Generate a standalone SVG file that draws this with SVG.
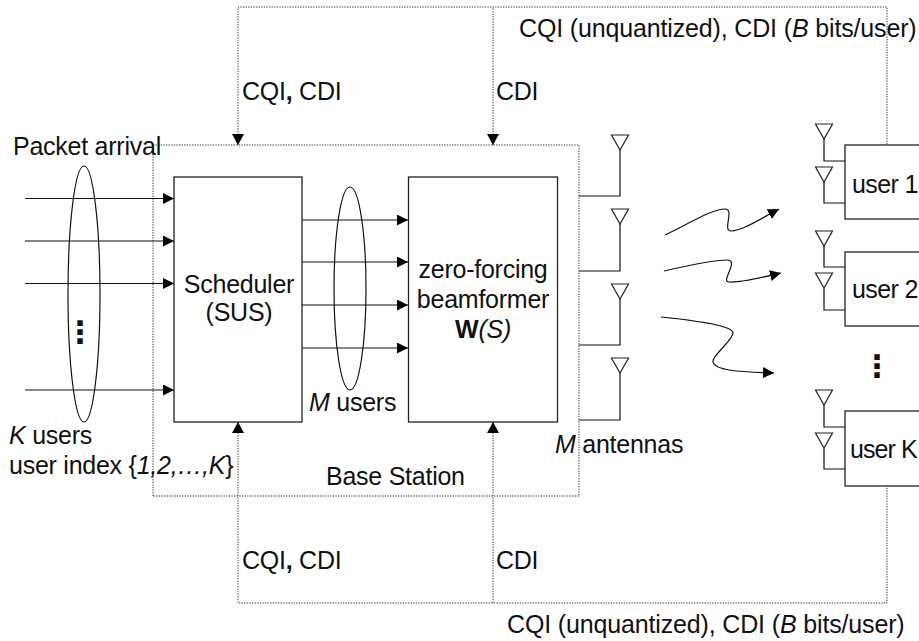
<svg xmlns="http://www.w3.org/2000/svg" width="919" height="641" viewBox="0 0 919 641">
<style>
text{font-family:"Liberation Sans",Arial,sans-serif;font-size:25px;fill:#111;letter-spacing:-0.25px}
.c{text-anchor:middle}
.i{font-style:italic}
.b{font-weight:bold}
.box{fill:#fff;stroke:#222;stroke-width:1.3}
.ln{fill:none;stroke:#111;stroke-width:1.2}
.dot{fill:none;stroke:#333;stroke-width:1;stroke-dasharray:1.3 1.3}
.ant{fill:#fff;stroke:#222;stroke-width:1.2}
.dots{font-family:"DejaVu Sans",sans-serif;font-weight:bold;font-size:31px;letter-spacing:0}
.long{letter-spacing:-0.15px}
.u{letter-spacing:-0.6px}
</style>
<defs>
<marker id="a" viewBox="0 0 11 11" refX="11" refY="5.500" markerWidth="11" markerHeight="11" markerUnits="userSpaceOnUse" orient="auto"><path d="M0 0L11 5.500L0 11Z" fill="#000"/></marker>
<path id="ant" d="M-8.500 0H8.500L0 15Z"/>
</defs>
<g id="connectors">
<path class="dot" d="M153 496V145H579V496Z"/>
<path class="dot" d="M238 145V7H887V145"/>
<path class="dot" d="M238 422V603H887V486"/>
<path class="dot" d="M493 145V7M493 422V603"/>
<g class="ln">
<path d="M25 198.500H174" marker-end="url(#a)"/>
<path d="M25 241H174" marker-end="url(#a)"/>
<path d="M25 283.500H174" marker-end="url(#a)"/>
<path d="M25 390H174" marker-end="url(#a)"/>
<path d="M302 220H408" marker-end="url(#a)"/>
<path d="M302 262H408" marker-end="url(#a)"/>
<path d="M302 305H408" marker-end="url(#a)"/>
<path d="M302 348H408" marker-end="url(#a)"/>
<path d="M665 235C690 223 712 209 725 209C735 209 722 231 731 231C742 231 760 219 779 209" marker-end="url(#a)"/>
<path d="M664 271C690 265 715 260 727 260C740 260 720 282 729 282C740 283 760 278 781 273" marker-end="url(#a)"/>
<path d="M661 317C690 320 733 325 733 333C733 340 713 355 713 361C713 372 750 372 774 373" marker-end="url(#a)"/>
</g>
<path d="M232 134H244L238 145ZM487 134H499L493 145ZM232 433H244L238 422ZM487 433H499L493 422Z" fill="#000"/>
</g>
<g id="scheduler"><rect class="box" x="174" y="177" width="128" height="245"/><text class="c" x="239" y="293">Scheduler</text><text class="c" x="239" y="321">(SUS)</text></g>
<g id="beamformer"><rect class="box" x="408.500" y="177" width="149" height="245"/><text class="c" x="483" y="278">zero-forcing</text><text class="c" x="483" y="308">beamformer</text><text class="c" x="483" y="338"><tspan class="b">W</tspan><tspan class="i">(S)</tspan></text></g>
<g id="ellipse-k"><ellipse class="ln" cx="84" cy="294" rx="16" ry="128"/><text class="dots c" x="80" y="343">⋮</text></g>
<g id="ellipse-m"><ellipse class="ln" cx="350" cy="288.500" rx="16" ry="101.500"/></g>
<g id="bs-antennas" class="ln">
<path d="M579 196H620V150M579 271H620V224M579 345H620V299M579 420H620V373"/>
<use href="#ant" class="ant" x="620" y="135"/><use href="#ant" class="ant" x="620" y="209"/><use href="#ant" class="ant" x="620" y="284"/><use href="#ant" class="ant" x="620" y="358"/>
</g>
<g id="user1"><rect class="box" x="845" y="145" width="90" height="74"/><path class="ln" d="M824 139V161H845M824 182V203H845"/><use href="#ant" class="ant" x="824" y="124"/><use href="#ant" class="ant" x="824" y="167"/><text class="u" x="852" y="193">user 1</text></g>
<g id="user2"><rect class="box" x="845" y="252" width="90" height="74"/><path class="ln" d="M824 246V267H845M824 288V310H845"/><use href="#ant" class="ant" x="824" y="231"/><use href="#ant" class="ant" x="824" y="273"/><text class="u" x="852" y="298">user 2</text></g>
<g id="userK"><rect class="box" x="845" y="411" width="90" height="75"/><path class="ln" d="M824 405V427H845M824 448V469H845"/><use href="#ant" class="ant" x="824" y="390"/><use href="#ant" class="ant" x="824" y="433"/><text x="850" y="458" style="letter-spacing:-0.9px">user K</text></g>
<g id="labels">
<text x="13" y="155">Packet arrival</text>
<text x="9" y="444"><tspan class="i">K</tspan> users</text>
<text x="9" y="474">user index {<tspan class="i">1,2,…,K</tspan>}</text>
<text x="309" y="411"><tspan class="i">M</tspan> users</text>
<text x="326" y="485">Base Station</text>
<text x="555" y="453"><tspan class="i">M</tspan> antennas</text>
<text x="242" y="100">CQI<tspan class="b">,</tspan> CDI</text>
<text x="496" y="100">CDI</text>
<text x="242" y="569">CQI<tspan class="b">,</tspan> CDI</text>
<text x="496" y="569">CDI</text>
<text class="long" x="519" y="37">CQI (unquantized), CDI (<tspan class="i">B</tspan> bits/user)</text>
<text class="long" x="507" y="633">CQI (unquantized), CDI (<tspan class="i">B</tspan> bits/user)</text>
<text class="dots c" x="877" y="377">⋮</text>
</g>
</svg>
